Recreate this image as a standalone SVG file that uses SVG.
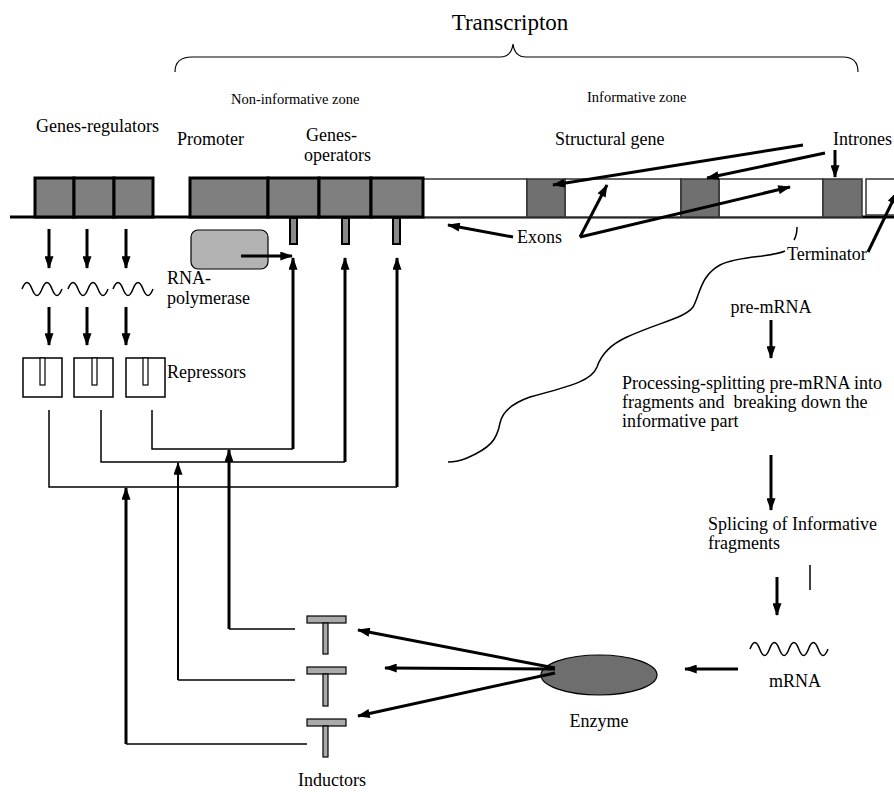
<svg xmlns="http://www.w3.org/2000/svg" width="894" height="792" viewBox="0 0 894 792">
<defs>
<marker id="ah" viewBox="0 0 14 10" markerWidth="14" markerHeight="9" refX="13" refY="5" orient="auto" markerUnits="userSpaceOnUse"><path d="M0,0 L14,5 L0,10 z" fill="#000"/></marker>
</defs>
<style>
text{font-family:"Liberation Serif","Times New Roman",serif;font-size:18px;fill:#000}
.zone{font-size:14.5px}
.title{font-size:23px}
.thick{stroke:#000;stroke-width:3;fill:none}
.mid{stroke:#000;stroke-width:2;fill:none}
.thin{stroke:#000;stroke-width:1.5;fill:none}
.reg{fill:#7f7f7f;stroke:#000;stroke-width:3}
.intron{fill:#707070;stroke:#333;stroke-width:1.5}
.exon{fill:#fff;stroke:#333;stroke-width:1.5}
.tab{fill:#888;stroke:#000;stroke-width:2}
.wave{fill:none;stroke:#000;stroke-width:1.5}
.tee{fill:#aaa;stroke:#000;stroke-width:1.2}
.arr{marker-end:url(#ah)}
</style>
<rect width="894" height="792" fill="#fff"/>

<g id="transcripton">
<path class="thin" style="stroke-width:1.2" d="M175,72 C175,62 180,57 192,57 L500,57 C508,57 512,52 513,44 C514,52 518,57 526,57 L843,57 C853,57 858,62 858,72"/>
<text class="title" x="510" y="30" text-anchor="middle">Transcripton</text>
<text class="zone" x="231" y="104">Non-informative zone</text>
<text class="zone" x="587" y="102">Informative zone</text>
</g>

<g id="dna">
<line x1="10" y1="217" x2="894" y2="217" stroke="#000" stroke-width="3"/>
<rect class="exon" x="423" y="179" width="104" height="38"/>
<rect class="exon" x="565" y="179" width="116" height="38"/>
<rect class="exon" x="719" y="179" width="104" height="38"/>
<rect class="exon" x="866" y="179" width="32" height="36"/>
</g>

<g id="genes-regulators">
<rect class="reg" x="35" y="178" width="39" height="39"/>
<rect class="reg" x="74" y="178" width="40" height="39"/>
<rect class="reg" x="114" y="178" width="39" height="39"/>
<text x="36" y="132">Genes-regulators</text>
</g>

<g id="promoter">
<rect class="reg" x="190" y="178" width="78" height="39"/>
<text x="177" y="145">Promoter</text>
</g>

<g id="genes-operators">
<rect class="reg" x="268" y="178" width="51" height="39"/>
<rect class="reg" x="319" y="178" width="52" height="39"/>
<rect class="reg" x="371" y="178" width="52" height="39"/>
<rect class="tab" x="290" y="218" width="7" height="26"/>
<rect class="tab" x="342" y="218" width="7" height="26"/>
<rect class="tab" x="393" y="218" width="7" height="26"/>
<text x="306" y="141">Genes-</text>
<text x="304" y="161">operators</text>
</g>

<g id="structural-gene">
<rect class="intron" x="527" y="179" width="38" height="38"/>
<rect class="intron" x="681" y="179" width="38" height="38"/>
<rect class="intron" x="823" y="179" width="39" height="38"/>
<text x="555" y="145">Structural gene</text>
<text x="833" y="145">Intrones</text>
<text x="517" y="243">Exons</text>
<text x="787" y="260">Terminator</text>
</g>

<g id="rna-polymerase">
<rect x="191" y="230" width="77" height="39" rx="7" fill="#b3b3b3" stroke="#000" stroke-width="1.2"/>
<text x="167" y="284">RNA-</text>
<text x="167" y="304">polymerase</text>
</g>

<g id="regulator-rna">
<path class="wave" d="M22,289 q5,-13 10,0 t10,0 t10,0 t10,0"/>
<path class="wave" d="M68,289 q5,-13 10,0 t10,0 t10,0 t10,0"/>
<path class="wave" d="M113,289 q5,-13 10,0 t10,0 t10,0 t10,0"/>
</g>

<g id="repressors">
<rect x="23" y="358" width="39" height="39" fill="#fff" stroke="#000" stroke-width="1.5"/>
<rect x="74" y="358" width="39" height="39" fill="#fff" stroke="#000" stroke-width="1.5"/>
<rect x="126" y="358" width="39" height="39" fill="#fff" stroke="#000" stroke-width="1.5"/>
<rect x="40" y="358" width="5" height="27" fill="#fff" stroke="#000" stroke-width="1.2"/>
<rect x="92" y="358" width="5" height="27" fill="#fff" stroke="#000" stroke-width="1.2"/>
<rect x="143" y="358" width="5" height="27" fill="#fff" stroke="#000" stroke-width="1.2"/>
<text x="167" y="378">Repressors</text>
</g>

<g id="pre-mrna">
<path class="wave" d="M785,251 C770,258 740,255 720,265 C700,276 700,295 693,307 C685,318 660,322 627,337 C607,346 600,358 597,367 C592,380 575,385 530,397 C510,404 502,413 500,423 C497,440 490,448 467,458 C460,461 452,462 448,462"/>
<path class="thin" d="M797,227 Q797,235 794,240"/>
<text x="771" y="313" text-anchor="middle">pre-mRNA</text>
</g>

<g id="processing">
<text x="622" y="389">Processing-splitting pre-mRNA into</text>
<text x="622" y="408" xml:space="preserve">fragments and  breaking down the</text>
<text x="622" y="427">informative part</text>
</g>

<g id="splicing">
<text x="708" y="530">Splicing of Informative</text>
<text x="708" y="549">fragments</text>
</g>

<g id="mrna">
<path class="wave" d="M750,649 q4.9,-13 9.75,0 t9.75,0 t9.75,0 t9.75,0 t9.75,0 t9.75,0 t9.75,0 t9.75,0"/>
<text x="795" y="687" text-anchor="middle">mRNA</text>
</g>

<g id="enzyme">
<ellipse cx="599" cy="675" rx="58" ry="20" fill="#6e6e6e" stroke="#000" stroke-width="1.2"/>
<text x="599" y="727" text-anchor="middle">Enzyme</text>
</g>

<g id="inductors">
<rect class="tee" x="307" y="616" width="39" height="7"/>
<rect class="tee" x="323" y="623" width="5" height="31"/>
<rect class="tee" x="307" y="667" width="39" height="7"/>
<rect class="tee" x="323" y="674" width="5" height="32"/>
<rect class="tee" x="307" y="719" width="39" height="7"/>
<rect class="tee" x="323" y="726" width="5" height="31"/>
<text x="332" y="786" text-anchor="middle">Inductors</text>
</g>

<g id="connectors">
<line class="thick arr" x1="49" y1="229" x2="49" y2="268"/>
<line class="thick arr" x1="87" y1="229" x2="87" y2="268"/>
<line class="thick arr" x1="126" y1="229" x2="126" y2="268"/>
<line class="thick arr" x1="49" y1="307" x2="49" y2="345"/>
<line class="thick arr" x1="87" y1="307" x2="87" y2="345"/>
<line class="thick arr" x1="126" y1="307" x2="126" y2="345"/>

<polyline class="thin" points="152,410 152,449 293,449"/>
<polyline class="thin" points="101,410 101,462 345,462"/>
<polyline class="thin" points="49,410 49,487 397,487"/>
<line class="thick arr" x1="293" y1="449" x2="293" y2="258"/>
<line class="thick arr" x1="345" y1="462" x2="345" y2="258"/>
<line class="thick arr" x1="397" y1="487" x2="397" y2="258"/>
<line class="thick arr" x1="241" y1="256" x2="292" y2="256"/>

<polyline class="thin" points="295,629 229,629"/>
<line class="thick arr" x1="229" y1="629" x2="229" y2="450"/>
<polyline class="thin" points="295,680 178,680"/>
<line class="mid arr" x1="178" y1="680" x2="178" y2="463"/>
<polyline class="thin" points="307,744 126,744"/>
<line class="thick arr" x1="126" y1="744" x2="126" y2="488"/>

<line class="thick arr" x1="555" y1="668" x2="358" y2="630"/>
<line class="thick arr" x1="555" y1="669" x2="385" y2="668"/>
<line class="thick arr" x1="555" y1="673" x2="358" y2="716"/>
<line class="thick arr" x1="738" y1="669" x2="685" y2="669"/>

<line class="thick arr" x1="777" y1="577" x2="777" y2="615"/>
<line class="thin" x1="810" y1="565" x2="810" y2="590"/>
<line class="thick arr" x1="771" y1="320" x2="771" y2="358"/>
<line class="thick arr" x1="771" y1="455" x2="771" y2="510"/>

<line class="thick arr" x1="803" y1="145" x2="553" y2="185"/>
<line class="thick arr" x1="825" y1="153" x2="707" y2="178"/>
<line class="thick arr" x1="835" y1="150" x2="835" y2="177"/>
<line class="thick arr" x1="513" y1="237" x2="448" y2="225"/>
<line class="thick arr" x1="580" y1="237" x2="607" y2="185"/>
<line class="thick arr" x1="580" y1="237" x2="790" y2="187"/>
<line class="thick arr" x1="868" y1="252" x2="897" y2="192"/>
</g>
</svg>
